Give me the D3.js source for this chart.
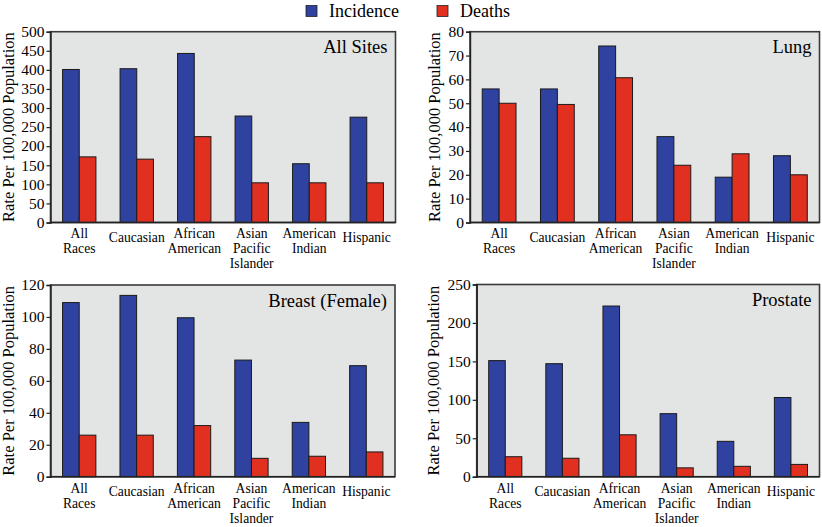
<!DOCTYPE html>
<html><head><meta charset="utf-8">
<script src="https://cdn.jsdelivr.net/npm/d3@7"></script>
<style>body{margin:0;background:#fff}svg{display:block}</style>
</head><body><svg id="c" width="822" height="527"></svg>
<script>
// ---- data ----
const categories = ["All Races","Caucasian","African American","Asian Pacific Islander","American Indian","Hispanic"];
const categoryLines = [["All","Races"],["Caucasian"],["African","American"],["Asian","Pacific","Islander"],["American","Indian"],["Hispanic"]];
const seriesNames = ["Incidence","Deaths"];
const allSitesIncidence = [401,403,443,279,154,276];
const allSitesDeaths    = [172,166,225,104,104,104];
const lungIncidence     = [56,56,74,36,19,28];
const lungDeaths        = [50,49.5,60.7,24,28.8,20];
const breastIncidence   = [109,113.5,99.5,73,34,69.5];
const breastDeaths      = [26,26,32,11.5,12.8,15.5];
const prostateIncidence = [151,147,222,82,46,103];
const prostateDeaths    = [26,24,54.5,11.5,13.5,16];
const allSitesTicks = [0,50,100,150,200,250,300,350,400,450,500];
const lungTicks     = [0,10,20,30,40,50,60,70,80];
const breastTicks   = [0,20,40,60,80,100,120];
const prostateTicks = [0,50,100,150,200,250];
const panelTitles = ["All Sites","Lung","Breast (Female)","Prostate"];
const yAxisTitle = "Rate Per 100,000 Population";

// ---- layout ----
const panels = [
  {title: panelTitles[0], inc: allSitesIncidence, dth: allSitesDeaths, ticks: allSitesTicks, box: {l: 50.5, r: 395.5, t: 31.7, b: 222.5}, titleX: 14},
  {title: panelTitles[1], inc: lungIncidence, dth: lungDeaths, ticks: lungTicks, box: {l: 470, r: 819.5, t: 31.7, b: 222.5}, titleX: 439.5},
  {title: panelTitles[2], inc: breastIncidence, dth: breastDeaths, ticks: breastTicks, box: {l: 50.5, r: 395, t: 285, b: 476.7}, titleX: 14},
  {title: panelTitles[3], inc: prostateIncidence, dth: prostateDeaths, ticks: prostateTicks, box: {l: 476.7, r: 819.5, t: 284.5, b: 476.7}, titleX: 439}
];
const colors = {Incidence: "#2f42a0", Deaths: "#e1301f"};
const FONT = "Liberation Serif";

function draw() {
const svg = d3.select("#c");
svg.selectAll("*").remove();

panels.forEach(p => {
  const {l, r, t, b} = p.box;
  const g = svg.append("g");
  const x0 = d3.scaleBand().domain(categories).range([l, r]).paddingInner(0.42).paddingOuter(0.21);
  const x1 = d3.scaleBand().domain(seriesNames).range([0, x0.bandwidth()]);
  const y = d3.scaleLinear().domain([p.ticks[0], p.ticks[p.ticks.length - 1]]).range([b, t]);

  g.append("rect").attr("x", l).attr("y", t).attr("width", r - l).attr("height", b - t)
    .attr("fill", "#e3e4e4");

  const rows = categories.map((c, i) => ({c, vals: [{s: "Incidence", v: p.inc[i]}, {s: "Deaths", v: p.dth[i]}]}));
  const grp = g.selectAll("g.grp").data(rows).join("g").attr("class", "grp")
    .attr("transform", d => `translate(${x0(d.c)},0)`);
  grp.selectAll("rect").data(d => d.vals).join("rect")
    .attr("x", d => x1(d.s)).attr("width", x1.bandwidth())
    .attr("y", d => y(d.v)).attr("height", d => y(0) - y(d.v))
    .attr("fill", d => colors[d.s]).attr("stroke", "#1a1a1a").attr("stroke-width", 1);

  g.append("rect").attr("x", l).attr("y", t).attr("width", r - l).attr("height", b - t)
    .attr("fill", "none").attr("stroke", "#3a3a3a").attr("stroke-width", 1.6);

  // y axis (ticks only; labels drawn as plain text)
  const ax = g.append("g").attr("transform", `translate(${l},0)`)
    .call(d3.axisLeft(y).tickValues(p.ticks).tickSize(4).tickFormat(""));
  ax.select(".domain").attr("stroke", "#222").attr("stroke-width", 1.4);
  ax.selectAll(".tick line").attr("stroke", "#222").attr("stroke-width", 1.2);
  ax.selectAll(".tick text").remove();
  p.ticks.forEach(v => {
    g.append("text").attr("x", l - 6).attr("y", y(v) + 5.3).attr("text-anchor", "end")
      .attr("font-family", FONT).attr("font-size", 15.5).text(v);
  });

  // bottom line
  g.append("line").attr("x1", l).attr("x2", r).attr("y1", b).attr("y2", b)
    .attr("stroke", "#222").attr("stroke-width", 1.6);

  // category labels
  categories.forEach((c, i) => {
    const lines = categoryLines[i];
    const cx = x0(c) + x0.bandwidth() / 2;
    lines.forEach((ln, k) => {
      g.append("text").attr("x", cx).attr("y", b + (lines.length === 1 ? 19.2 : 15.8) + k * 15)
        .attr("text-anchor", "middle").attr("font-family", FONT).attr("font-size", 13.6).text(ln);
    });
  });

  // y axis title
  g.append("text").attr("transform", `translate(${p.titleX},${(t + b) / 2}) rotate(-90)`)
    .attr("text-anchor", "middle").attr("font-family", FONT).attr("font-size", 16.5)
    .text(yAxisTitle);

  // panel title
  g.append("text").attr("x", r - 8).attr("y", t + 21.5).attr("text-anchor", "end")
    .attr("font-family", FONT).attr("font-size", 18.5).text(p.title);
});

// legend
const legendX = [306, 437];
const lg = svg.append("g");
seriesNames.forEach((s, i) => {
  lg.append("rect").attr("x", legendX[i]).attr("y", 5.5).attr("width", 11).attr("height", 11)
    .attr("fill", colors[s]).attr("stroke", "#222").attr("stroke-width", 0.8);
  lg.append("text").attr("x", legendX[i] + 23).attr("y", 16.5).attr("font-family", FONT)
    .attr("font-size", 18).text(s);
});
}
draw();
if (document.fonts && document.fonts.load) {
  document.fonts.load("16px 'Liberation Serif'").then(draw).catch(() => {});
}
</script></body></html>
